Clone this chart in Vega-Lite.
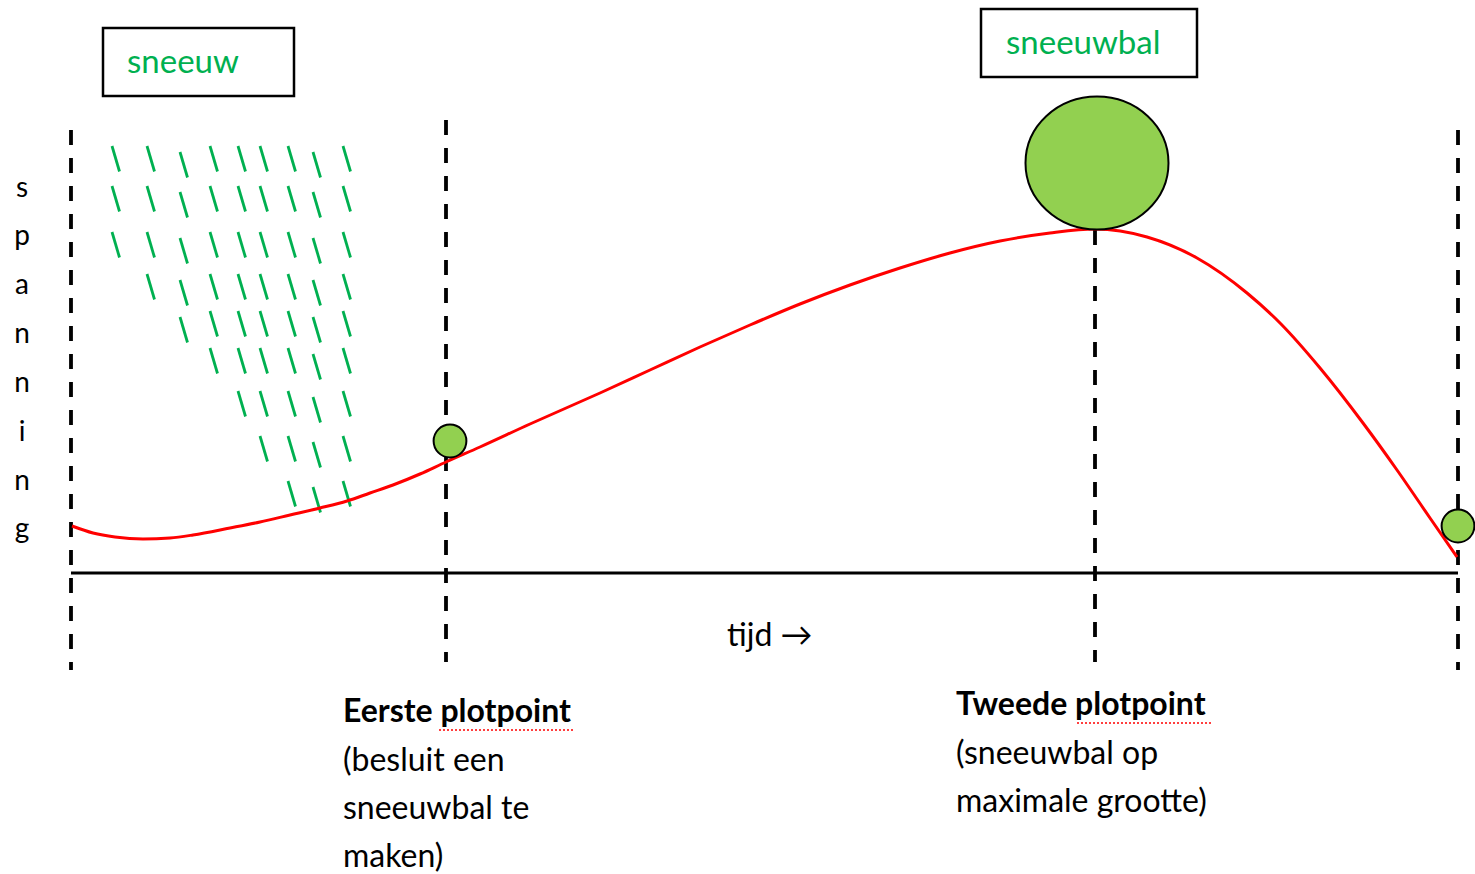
{
  "$schema": "https://vega.github.io/schema/vega-lite/v6.json",
  "width": 1475,
  "height": 874,
  "autosize": {"type": "none"},
  "padding": 0,
  "background": "white",
  "config": {"view": {"stroke": null}},
  "datasets": {
    "boxes": [
      {"x": 103, "x2": 294, "y": 28, "y2": 96},
      {"x": 981, "x2": 1197, "y": 9, "y2": 77}
    ],
    "snow": [
      {"x": 112, "y": 146, "x2": 119.5, "y2": 171.5},
      {"x": 147, "y": 146, "x2": 154.5, "y2": 171.5},
      {"x": 180, "y": 152, "x2": 187.5, "y2": 177.5},
      {"x": 210, "y": 146, "x2": 217.5, "y2": 171.5},
      {"x": 238, "y": 146, "x2": 245.5, "y2": 171.5},
      {"x": 260, "y": 146, "x2": 267.5, "y2": 171.5},
      {"x": 288, "y": 146, "x2": 295.5, "y2": 171.5},
      {"x": 313, "y": 152, "x2": 320.5, "y2": 177.5},
      {"x": 343, "y": 146, "x2": 350.5, "y2": 171.5},
      {"x": 112, "y": 186, "x2": 119.5, "y2": 211.5},
      {"x": 147, "y": 186, "x2": 154.5, "y2": 211.5},
      {"x": 180, "y": 192, "x2": 187.5, "y2": 217.5},
      {"x": 210, "y": 186, "x2": 217.5, "y2": 211.5},
      {"x": 238, "y": 186, "x2": 245.5, "y2": 211.5},
      {"x": 260, "y": 186, "x2": 267.5, "y2": 211.5},
      {"x": 288, "y": 186, "x2": 295.5, "y2": 211.5},
      {"x": 313, "y": 192, "x2": 320.5, "y2": 217.5},
      {"x": 343, "y": 186, "x2": 350.5, "y2": 211.5},
      {"x": 112, "y": 232, "x2": 119.5, "y2": 257.5},
      {"x": 147, "y": 232, "x2": 154.5, "y2": 257.5},
      {"x": 180, "y": 238, "x2": 187.5, "y2": 263.5},
      {"x": 210, "y": 232, "x2": 217.5, "y2": 257.5},
      {"x": 238, "y": 232, "x2": 245.5, "y2": 257.5},
      {"x": 260, "y": 232, "x2": 267.5, "y2": 257.5},
      {"x": 288, "y": 232, "x2": 295.5, "y2": 257.5},
      {"x": 313, "y": 238, "x2": 320.5, "y2": 263.5},
      {"x": 343, "y": 232, "x2": 350.5, "y2": 257.5},
      {"x": 147, "y": 274, "x2": 154.5, "y2": 299.5},
      {"x": 180, "y": 280, "x2": 187.5, "y2": 305.5},
      {"x": 210, "y": 274, "x2": 217.5, "y2": 299.5},
      {"x": 238, "y": 274, "x2": 245.5, "y2": 299.5},
      {"x": 260, "y": 274, "x2": 267.5, "y2": 299.5},
      {"x": 288, "y": 274, "x2": 295.5, "y2": 299.5},
      {"x": 313, "y": 280, "x2": 320.5, "y2": 305.5},
      {"x": 343, "y": 274, "x2": 350.5, "y2": 299.5},
      {"x": 180, "y": 317, "x2": 187.5, "y2": 342.5},
      {"x": 210, "y": 311, "x2": 217.5, "y2": 336.5},
      {"x": 238, "y": 311, "x2": 245.5, "y2": 336.5},
      {"x": 260, "y": 311, "x2": 267.5, "y2": 336.5},
      {"x": 288, "y": 311, "x2": 295.5, "y2": 336.5},
      {"x": 313, "y": 317, "x2": 320.5, "y2": 342.5},
      {"x": 343, "y": 311, "x2": 350.5, "y2": 336.5},
      {"x": 210, "y": 348, "x2": 217.5, "y2": 373.5},
      {"x": 238, "y": 348, "x2": 245.5, "y2": 373.5},
      {"x": 260, "y": 348, "x2": 267.5, "y2": 373.5},
      {"x": 288, "y": 348, "x2": 295.5, "y2": 373.5},
      {"x": 313, "y": 354, "x2": 320.5, "y2": 379.5},
      {"x": 343, "y": 348, "x2": 350.5, "y2": 373.5},
      {"x": 238, "y": 391, "x2": 245.5, "y2": 416.5},
      {"x": 260, "y": 391, "x2": 267.5, "y2": 416.5},
      {"x": 288, "y": 391, "x2": 295.5, "y2": 416.5},
      {"x": 313, "y": 397, "x2": 320.5, "y2": 422.5},
      {"x": 343, "y": 391, "x2": 350.5, "y2": 416.5},
      {"x": 260, "y": 436, "x2": 267.5, "y2": 461.5},
      {"x": 288, "y": 436, "x2": 295.5, "y2": 461.5},
      {"x": 313, "y": 442, "x2": 320.5, "y2": 467.5},
      {"x": 343, "y": 436, "x2": 350.5, "y2": 461.5},
      {"x": 288, "y": 481, "x2": 295.5, "y2": 506.5},
      {"x": 313, "y": 487, "x2": 320.5, "y2": 512.5},
      {"x": 343, "y": 481, "x2": 350.5, "y2": 506.5}
    ],
    "dashed": [
      {"x": 71, "y": 130, "y2": 670},
      {"x": 446, "y": 120, "y2": 662},
      {"x": 1095, "y": 230, "y2": 662},
      {"x": 1458, "y": 130, "y2": 670}
    ],
    "axisline": [{"x": 71, "x2": 1458, "y": 573}],
    "curve": [
      {"x": 72, "y": 526}, {"x": 93, "y": 533}, {"x": 115, "y": 537}, {"x": 143, "y": 539},
      {"x": 170, "y": 538}, {"x": 193, "y": 535}, {"x": 230, "y": 528}, {"x": 260, "y": 522},
      {"x": 290, "y": 515}, {"x": 320, "y": 508}, {"x": 347, "y": 501}, {"x": 370, "y": 493},
      {"x": 393, "y": 485}, {"x": 420, "y": 474}, {"x": 446, "y": 462}, {"x": 480, "y": 447},
      {"x": 530, "y": 424}, {"x": 600, "y": 393}, {"x": 650, "y": 370}, {"x": 700, "y": 347},
      {"x": 750, "y": 325}, {"x": 800, "y": 304}, {"x": 850, "y": 285}, {"x": 900, "y": 268},
      {"x": 950, "y": 253}, {"x": 1000, "y": 241}, {"x": 1050, "y": 233}, {"x": 1095, "y": 229},
      {"x": 1147, "y": 237}, {"x": 1197, "y": 258}, {"x": 1247, "y": 293}, {"x": 1280, "y": 323},
      {"x": 1320, "y": 368}, {"x": 1363, "y": 423}, {"x": 1397, "y": 470}, {"x": 1430, "y": 518},
      {"x": 1457, "y": 557}
    ],
    "smallballs": [
      {"x": 450, "y": 441},
      {"x": 1458, "y": 526}
    ],
    "bigball": [{"x": 1097, "y": 163}],
    "greentext": [
      {"x": 127, "y": 73, "label": "sneeuw"},
      {"x": 1006, "y": 54, "label": "sneeuwbal"}
    ],
    "boldtext": [
      {"x": 343, "y": 722, "label": "Eerste plotpoint"},
      {"x": 956, "y": 715, "label": "Tweede plotpoint"}
    ],
    "plaintext": [
      {"x": 343, "y": 771, "label": "(besluit een"},
      {"x": 343, "y": 819, "label": "sneeuwbal te"},
      {"x": 343, "y": 867, "label": "maken)"},
      {"x": 956, "y": 764, "label": "(sneeuwbal op"},
      {"x": 956, "y": 812, "label": "maximale grootte)"},
      {"x": 727, "y": 646, "label": "tijd →"}
    ],
    "squiggle": [
      {"x": 439, "x2": 575, "y": 730},
      {"x": 1077, "x2": 1213, "y": 723}
    ],
    "spanning": [
      {"x": 22, "y": 197, "label": "s"},
      {"x": 22, "y": 245, "label": "p"},
      {"x": 22, "y": 294, "label": "a"},
      {"x": 22, "y": 343, "label": "n"},
      {"x": 22, "y": 392, "label": "n"},
      {"x": 22, "y": 441, "label": "i"},
      {"x": 22, "y": 490, "label": "n"},
      {"x": 22, "y": 538, "label": "g"}
    ]
  },
  "encoding": {
    "x": {"field": "x", "type": "quantitative", "scale": {"domain": [0, 1475], "nice": false, "zero": false}, "axis": null},
    "y": {"field": "y", "type": "quantitative", "scale": {"domain": [0, 874], "reverse": true, "nice": false, "zero": false}, "axis": null}
  },
  "layer": [
    {
      "data": {"name": "boxes"},
      "mark": {"type": "rect", "fill": "white", "stroke": "black", "strokeWidth": 2.5},
      "encoding": {"x2": {"field": "x2"}, "y2": {"field": "y2"}}
    },
    {
      "data": {"name": "snow"},
      "mark": {"type": "rule", "stroke": "#00B050", "strokeWidth": 2.8},
      "encoding": {"x2": {"field": "x2"}, "y2": {"field": "y2"}}
    },
    {
      "data": {"name": "dashed"},
      "mark": {"type": "rule", "stroke": "black", "strokeWidth": 3.8, "strokeDash": [15, 13]},
      "encoding": {"y2": {"field": "y2"}}
    },
    {
      "data": {"name": "axisline"},
      "mark": {"type": "rule", "stroke": "black", "strokeWidth": 3},
      "encoding": {"x2": {"field": "x2"}}
    },
    {
      "data": {"name": "curve"},
      "mark": {"type": "line", "stroke": "#FF0000", "strokeWidth": 3, "interpolate": "monotone"},
      "encoding": {}
    },
    {
      "data": {"name": "smallballs"},
      "mark": {"type": "point", "shape": "circle", "filled": true, "fill": "#92D050", "stroke": "black", "strokeWidth": 2, "opacity": 1, "fillOpacity": 1, "size": 1075},
      "encoding": {}
    },
    {
      "data": {"name": "bigball"},
      "mark": {"type": "point", "shape": "M-1,0A1,0.93,0,1,1,1,0A1,0.93,0,1,1,-1,0Z", "filled": true, "fill": "#92D050", "stroke": "black", "strokeWidth": 2, "opacity": 1, "fillOpacity": 1, "size": 20449},
      "encoding": {}
    },
    {
      "data": {"name": "squiggle"},
      "mark": {"type": "rule", "stroke": "#FF0000", "strokeWidth": 1.5, "strokeDash": [2, 2]},
      "encoding": {"x2": {"field": "x2"}}
    },
    {
      "data": {"name": "greentext"},
      "mark": {"type": "text", "font": "Lato", "fontSize": 33, "fill": "#00B050", "align": "left", "baseline": "alphabetic"},
      "encoding": {"text": {"field": "label"}}
    },
    {
      "data": {"name": "boldtext"},
      "mark": {"type": "text", "font": "Lato", "fontSize": 32, "fontWeight": "bold", "fill": "black", "align": "left", "baseline": "alphabetic"},
      "encoding": {"text": {"field": "label"}}
    },
    {
      "data": {"name": "plaintext"},
      "mark": {"type": "text", "font": "Lato", "fontSize": 32, "fill": "black", "align": "left", "baseline": "alphabetic"},
      "encoding": {"text": {"field": "label"}}
    },
    {
      "data": {"name": "spanning"},
      "mark": {"type": "text", "font": "Lato", "fontSize": 28, "fill": "black", "align": "center", "baseline": "alphabetic"},
      "encoding": {"text": {"field": "label"}}
    }
  ]
}
